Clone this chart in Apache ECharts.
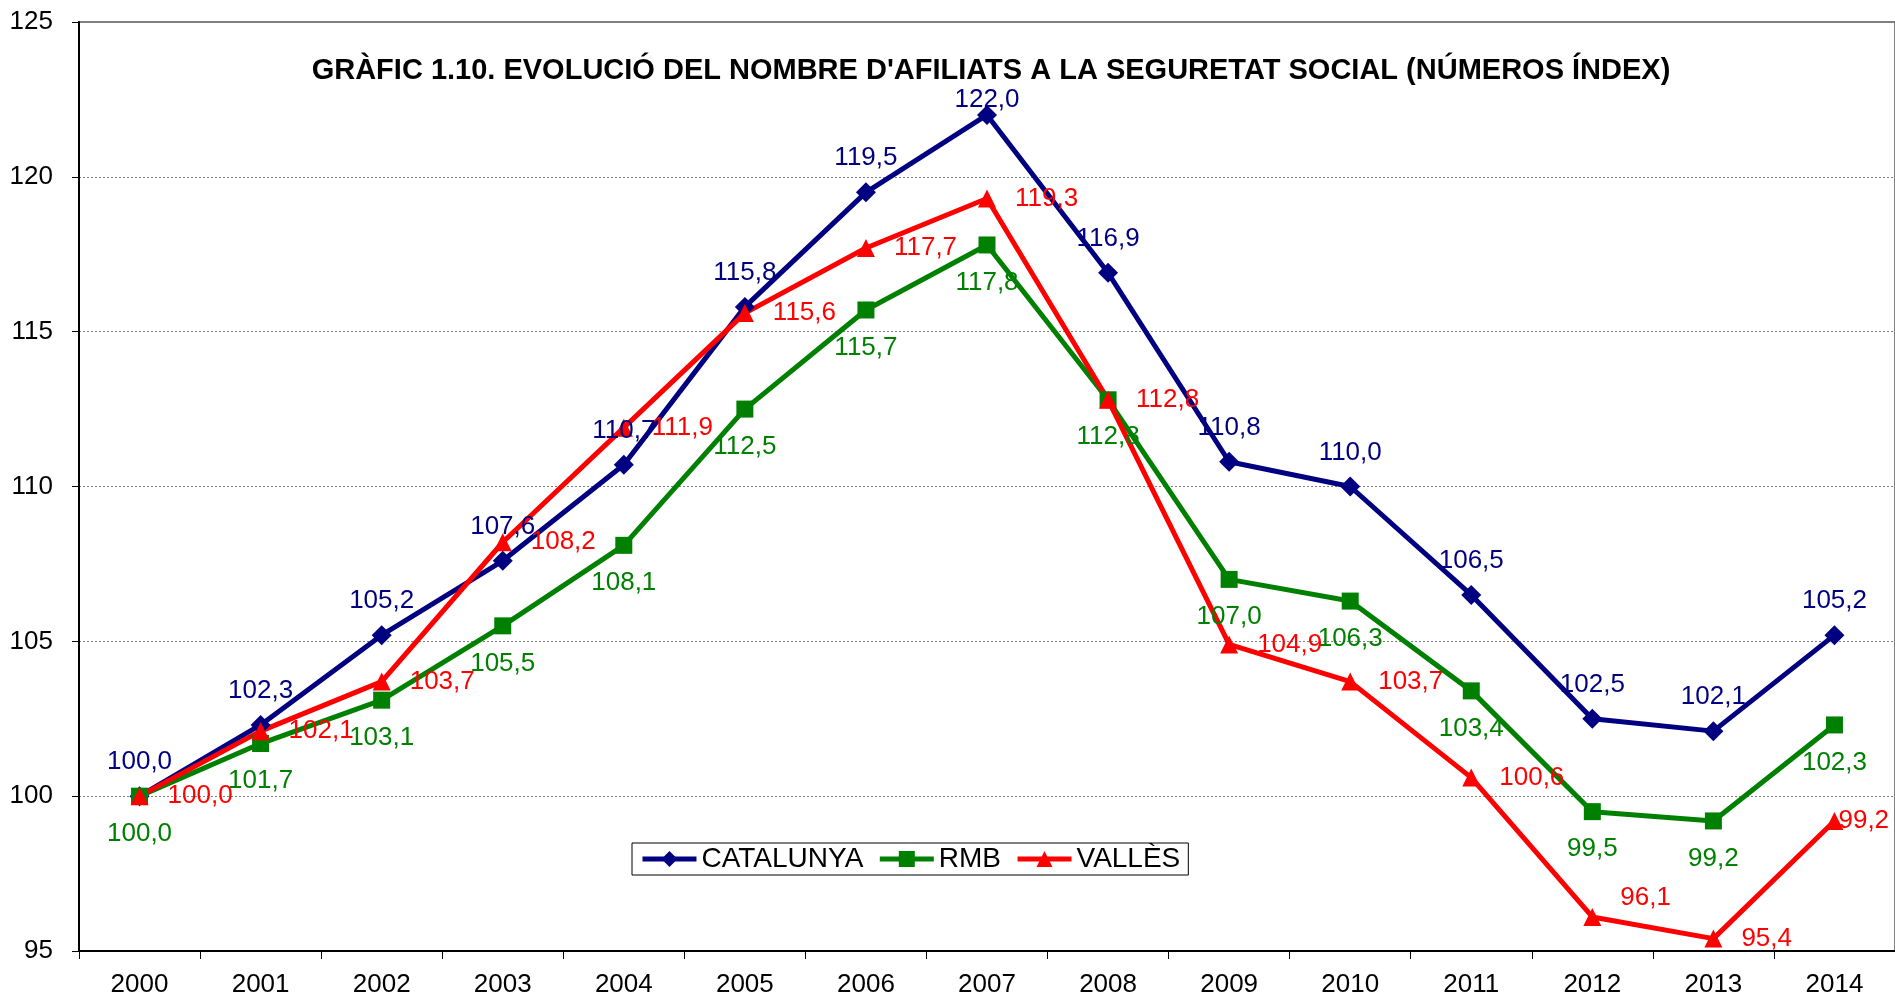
<!DOCTYPE html>
<html><head><meta charset="utf-8">
<script src="https://cdn.jsdelivr.net/npm/echarts@6/dist/echarts.min.js"></script>
<style>html,body{margin:0;padding:0;background:#fff}#c{width:1895px;height:998px}</style>
</head><body><div id="c"></div>
<script>
const years = ['2000','2001','2002','2003','2004','2005','2006','2007','2008','2009','2010','2011','2012','2013','2014'];
const catalunya = [100.0,102.3,105.2,107.6,110.7,115.8,119.5,122.0,116.9,110.8,110.0,106.5,102.5,102.1,105.2];
const rmb = [100.0,101.7,103.1,105.5,108.1,112.5,115.7,117.8,112.8,107.0,106.3,103.4,99.5,99.2,102.3];
const valles = [100.0,102.1,103.7,108.2,111.9,115.6,117.7,119.3,112.8,104.9,103.7,100.6,96.1,95.4,99.2];
const titleText = "GRÀFIC 1.10. EVOLUCIÓ DEL NOMBRE D'AFILIATS A LA SEGURETAT SOCIAL (NÚMEROS ÍNDEX)";

const FONT = 'Liberation Sans, Arial, sans-serif';
const fmt = p => p.value.toFixed(1).replace('.', ',');
function mk(name, data, color, symbol, size, pos, dist, overrides) {
  const items = data.map((v, i) => overrides[i] ? { value: v, label: overrides[i] } : v);
  return {
    name, type: 'line', data: items, symbol, symbolSize: size, showSymbol: true,
    lineStyle: { color, width: 5 }, itemStyle: { color },
    label: { show: true, position: pos, distance: dist, formatter: fmt, color, fontSize: 26, fontFamily: FONT },
    z: 3
  };
}
const chart = echarts.init(document.getElementById('c'));
chart.setOption({
  animation: false,
  grid: { left: 79, right: -5, top: 22, bottom: 47, show: true, borderColor: '#808080', borderWidth: 2 },
  graphic: [{ type: 'text', x: 991, y: 71, style: { text: titleText, font: 'bold 29px ' + FONT, fill: '#000', textAlign: 'center', textVerticalAlign: 'middle' } }],
  legend: {
    left: 632, top: 843, padding: [2, 8], itemGap: 14, itemWidth: 54, itemHeight: 20,
    borderColor: '#000', borderWidth: 1, backgroundColor: '#fff',
    lineStyle: { width: 5 },
    textStyle: { fontSize: 28, fontFamily: FONT, color: '#000' },
    data: ['CATALUNYA', 'RMB', 'VALLÈS']
  },
  xAxis: {
    type: 'category', data: years, boundaryGap: true,
    axisLine: { lineStyle: { color: '#000', width: 2 } },
    axisTick: { show: true, length: 8, lineStyle: { color: '#000' } },
    axisLabel: { fontSize: 26, fontFamily: FONT, color: '#000', margin: 21 }
  },
  yAxis: {
    type: 'value', min: 95, max: 125, interval: 5,
    axisLine: { show: true, lineStyle: { color: '#000', width: 2 } },
    axisTick: { show: true, length: 7, lineStyle: { color: '#000' } },
    axisLabel: { fontSize: 26, fontFamily: FONT, color: '#000', margin: 26 },
    splitLine: { show: true, lineStyle: { color: '#808080', type: [2, 2], width: 1 } }
  },
  series: [
    mk('CATALUNYA', catalunya, '#000080', 'diamond', 20, 'top', 11, { 7: { distance: -8 } }),
    mk('RMB', rmb, '#008000', 'rect', 17, 'bottom', 16, {}),
    mk('VALLÈS', valles, '#FF0000', 'triangle', 18, 'right', 19, { 12: { offset: [0, -19] }, 14: { distance: -5 } })
  ]
});
</script></body></html>
